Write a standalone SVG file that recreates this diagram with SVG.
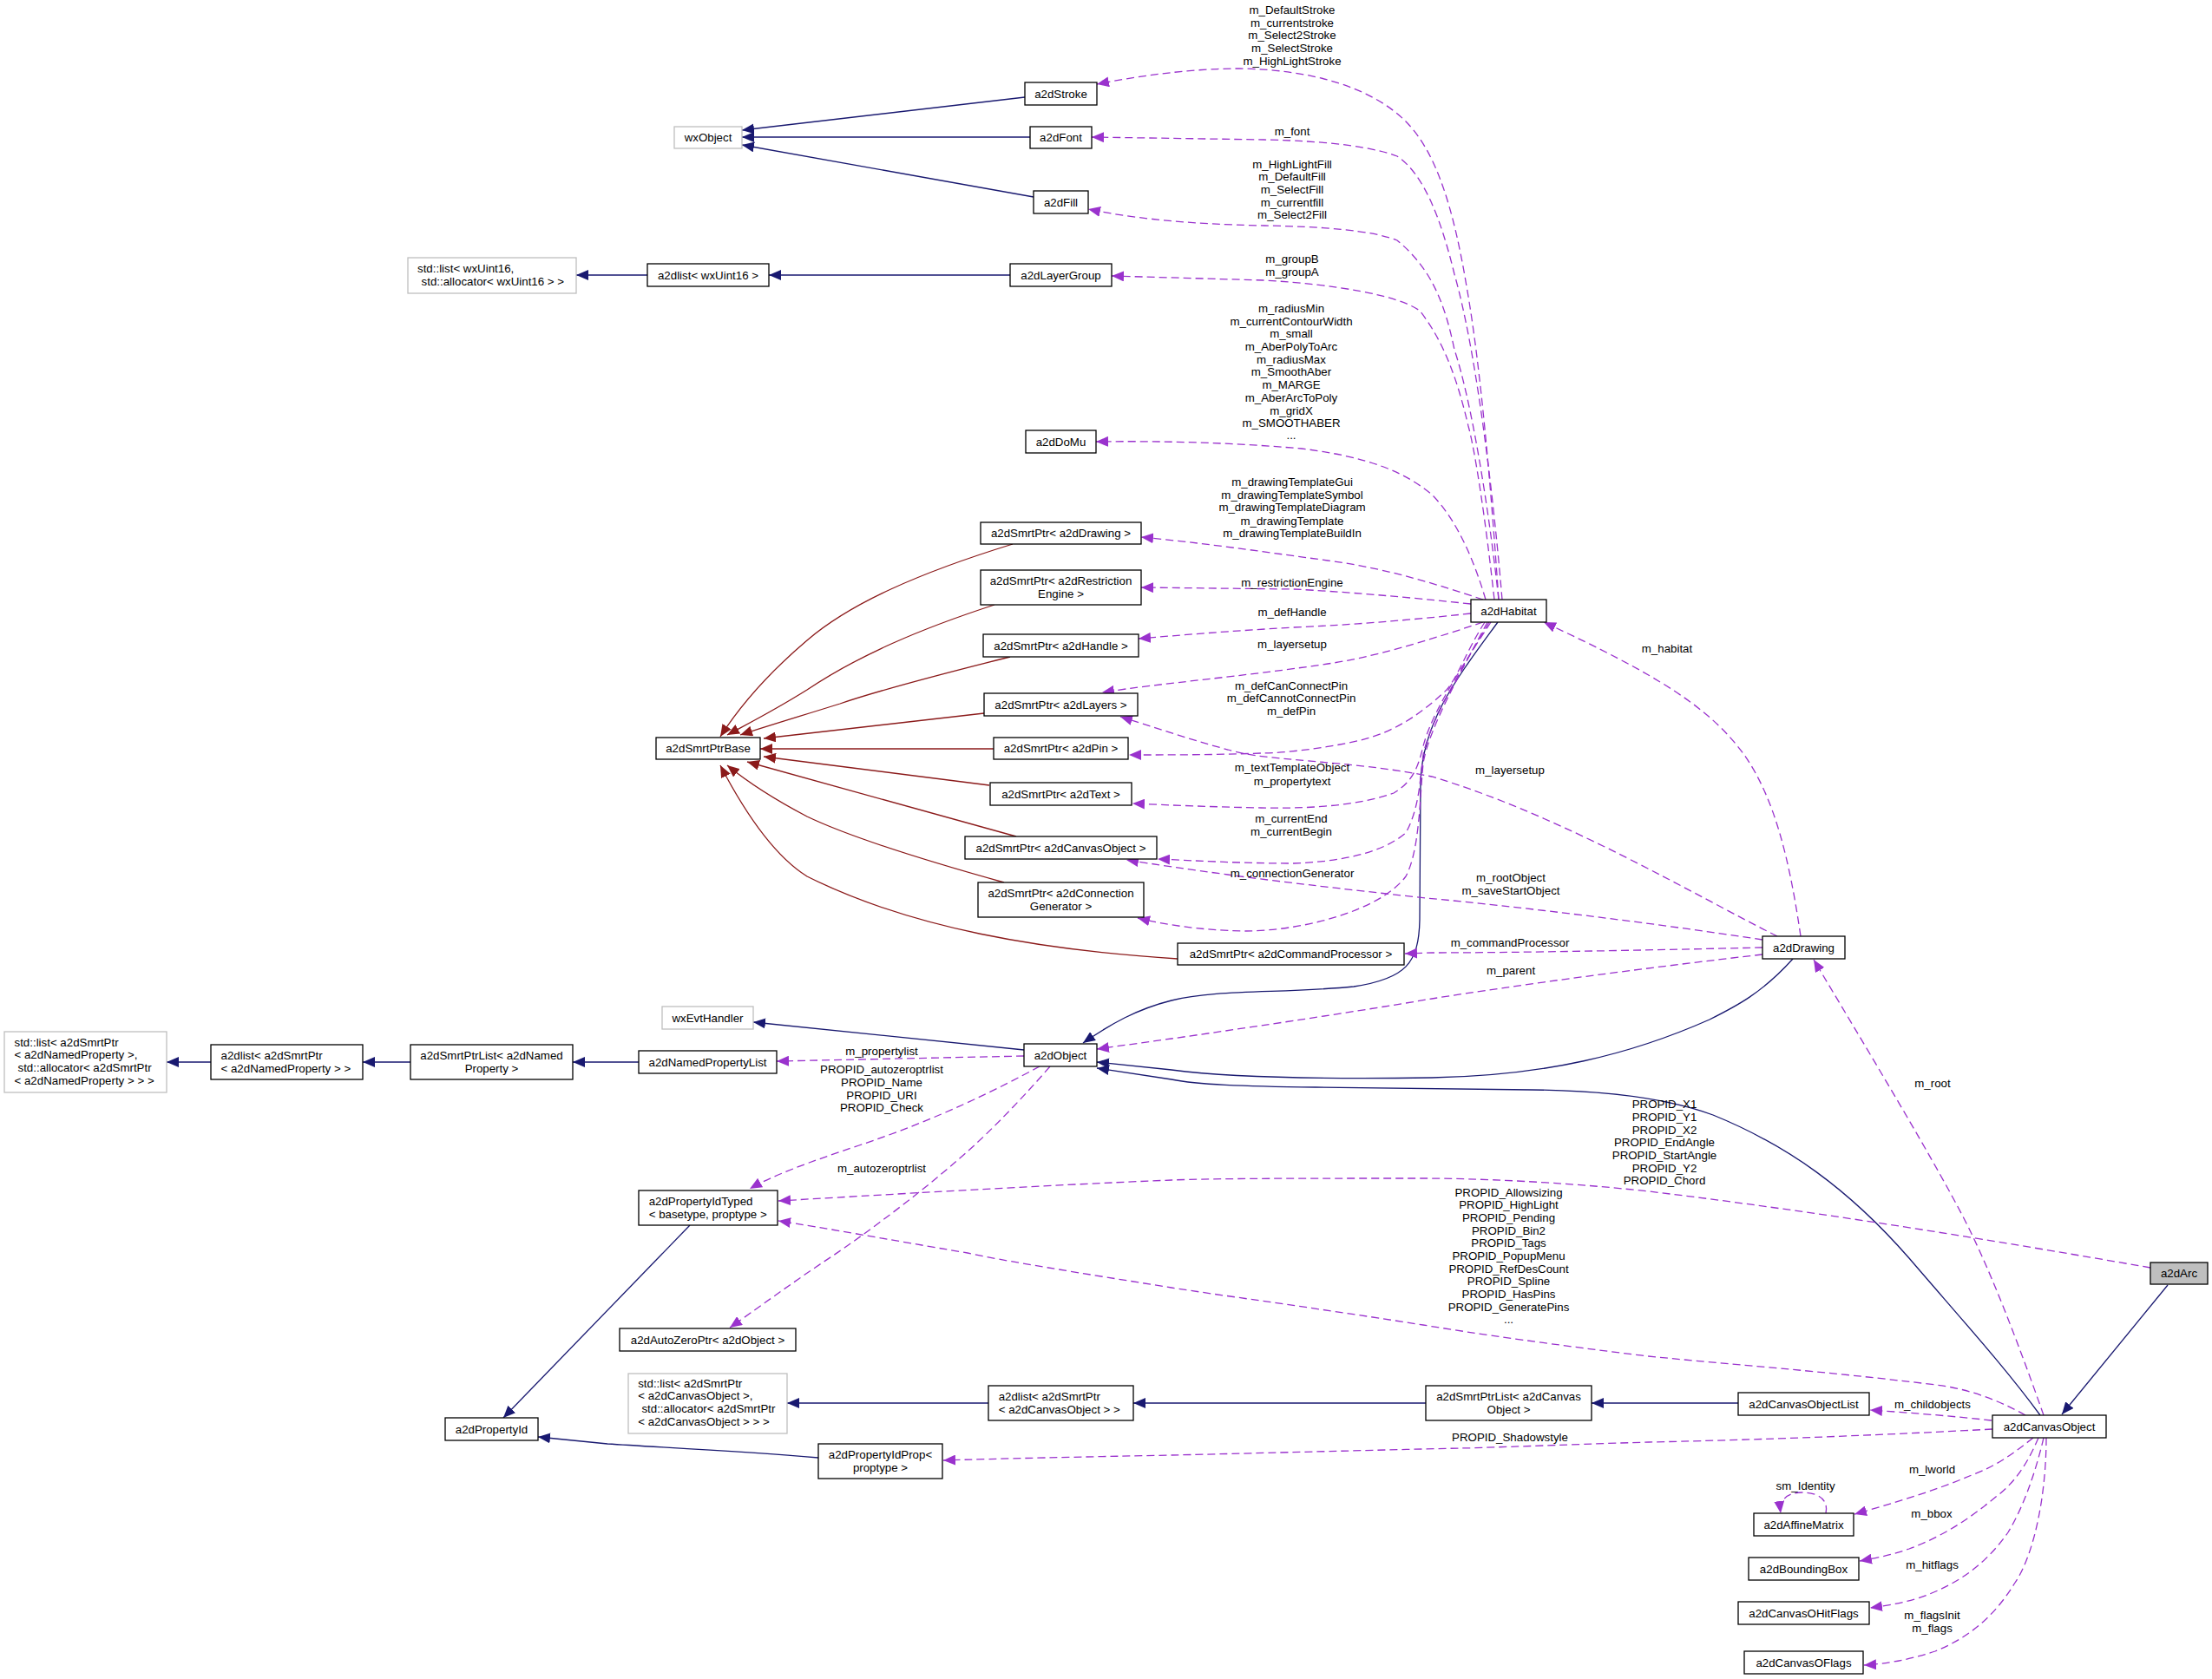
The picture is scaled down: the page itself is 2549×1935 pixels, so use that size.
<svg xmlns="http://www.w3.org/2000/svg" width="2549" height="1935" viewBox="0 0 2549 1935">
<defs>
<style>
text{font-family:"Liberation Sans",Arial,Helvetica,sans-serif;font-size:13.3px;fill:#000}
.n rect{fill:#fff;stroke:#000;stroke-width:1.3}
.g rect{fill:#fff;stroke:#bfbfbf;stroke-width:1.3}
.h rect{fill:#bfbfbf;stroke:#000;stroke-width:1.3}
.m{text-anchor:middle}
.e path{fill:none;stroke-width:1.3}
.e .inh{stroke:#191970;marker-end:url(#ab)}
.e .tpl{stroke:#8b1a1a;marker-end:url(#ar)}
.e .use{stroke:#9a32cd;stroke-dasharray:9,5;marker-end:url(#ap)}
.lbl text{text-anchor:middle}
</style>
<marker id="ab" markerUnits="userSpaceOnUse" markerWidth="14" markerHeight="12" viewBox="0 0 14 12" refX="14" refY="6" orient="auto"><path d="M0,0 L14,6 L0,12 z" fill="#191970"/></marker>
<marker id="ar" markerUnits="userSpaceOnUse" markerWidth="14" markerHeight="12" viewBox="0 0 14 12" refX="14" refY="6" orient="auto"><path d="M0,0 L14,6 L0,12 z" fill="#8b1a1a"/></marker>
<marker id="ap" markerUnits="userSpaceOnUse" markerWidth="14" markerHeight="12" viewBox="0 0 14 12" refX="14" refY="6" orient="auto"><path d="M0,0 L14,6 L0,12 z" fill="#9a32cd"/></marker>
</defs>
<rect width="2549" height="1935" fill="#fff"/>

<g id="connectors" class="e">
<!-- inheritance -->
<path class="inh" d="M1181,112 L855,150"/>
<path class="inh" d="M1187,158 L855,158"/>
<path class="inh" d="M1191,227 L855,167"/>
<path class="inh" d="M1164,317 L886,317"/>
<path class="inh" d="M746,317 L664,317"/>
<path class="inh" d="M736,1224 L660,1224"/>
<path class="inh" d="M473,1224 L418,1224"/>
<path class="inh" d="M243,1224 L192,1224"/>
<path class="inh" d="M1180,1210 L868,1178"/>
<path class="inh" d="M1726,717 C1680,780 1640,830 1637,900 L1636,1060 C1635,1110 1620,1128 1560,1137 C1480,1145 1400,1140 1350,1153 C1310,1163 1280,1180 1248,1202"/>
<path class="inh" d="M2066,1105 C2030,1145 2000,1160 1970,1175 C1880,1215 1780,1240 1650,1242 C1520,1244 1420,1242 1350,1233 L1264,1224"/>
<path class="inh" d="M2351,1631 C2310,1575 2260,1520 2200,1450 C2130,1370 2060,1320 1974,1285 C1920,1265 1850,1257 1765,1256 L1516,1253 C1430,1252 1380,1250 1350,1244 L1264,1231"/>
<path class="inh" d="M2498,1481 L2376,1630"/>
<path class="inh" d="M2003,1617 L1834,1617"/>
<path class="inh" d="M1643,1617 L1306,1617"/>
<path class="inh" d="M1139,1617 L907,1617"/>
<path class="inh" d="M795,1412 L580,1634"/>
<path class="inh" d="M943,1680 C850,1672 760,1668 700,1664 L620,1656"/>
<!-- template -->
<path class="tpl" d="M1167,627 C1060,660 980,695 930,738 C890,772 855,810 830,849"/>
<path class="tpl" d="M1146,697 C1060,725 990,755 930,795 C890,820 860,835 838,847"/>
<path class="tpl" d="M1164,757 C1080,778 1000,800 968,811 C920,826 880,838 853,847"/>
<path class="tpl" d="M1134,822 L880,851"/>
<path class="tpl" d="M1145,863 L876,863"/>
<path class="tpl" d="M1140,905 L880,872"/>
<path class="tpl" d="M1171,964 C1050,930 940,900 861,878"/>
<path class="tpl" d="M1157,1017 C1060,990 980,965 930,941 C890,920 860,900 838,882"/>
<path class="tpl" d="M1357,1105 C1200,1095 1050,1070 930,1010 C890,985 855,930 830,882"/>
<!-- usage -->
<path class="use" d="M1727,691 C1718,560 1706,420 1690,330 C1675,240 1655,175 1620,140 C1580,100 1510,80 1428,79 C1370,79 1310,88 1264,97"/>
<path class="use" d="M1731,691 C1720,560 1700,400 1676,316 C1660,250 1640,200 1610,180 C1570,165 1500,162 1457,161 L1258,158"/>
<path class="use" d="M1727,691 C1715,580 1695,460 1676,403 C1665,350 1650,310 1610,277 C1580,265 1520,261 1457,260 C1400,259 1320,255 1254,241"/>
<path class="use" d="M1722,691 C1712,600 1700,520 1692,491 C1680,440 1665,395 1636,358 C1610,340 1540,328 1457,323 L1281,318"/>
<path class="use" d="M1712,691 C1700,650 1680,600 1650,570 C1620,545 1580,527 1500,517 C1420,510 1340,508 1263,509"/>
<path class="use" d="M1709,691 C1660,675 1600,655 1530,646 C1450,635 1380,625 1315,619"/>
<path class="use" d="M1695,696 C1620,688 1550,682 1491,679 L1315,677"/>
<path class="use" d="M1695,707 C1620,715 1560,720 1491,723 C1420,727 1360,732 1312,736"/>
<path class="use" d="M1709,717 C1640,740 1580,758 1530,765 C1430,780 1340,787 1270,798"/>
<path class="use" d="M1711,717 C1690,750 1680,780 1667,795 C1630,830 1600,845 1568,853 C1530,862 1480,868 1453,868 C1400,870 1350,870 1301,870"/>
<path class="use" d="M1718,717 C1690,760 1650,820 1640,860 C1635,880 1630,900 1606,914 C1560,930 1500,932 1453,931 C1400,930 1350,928 1305,926"/>
<path class="use" d="M1716,717 C1688,765 1648,830 1640,870 C1636,900 1636,930 1620,960 C1590,985 1540,993 1491,995 C1430,995 1380,992 1334,990"/>
<path class="use" d="M1714,717 C1686,770 1646,840 1640,880 C1636,920 1636,980 1620,1010 C1590,1050 1500,1073 1434,1073 C1380,1072 1340,1065 1311,1058"/>
<path class="use" d="M2031,1092 C1900,1095 1750,1098 1650,1098 L1619,1099"/>
<path class="use" d="M2031,1100 C1900,1115 1750,1135 1650,1151 C1550,1168 1420,1187 1350,1197 L1264,1209"/>
<path class="use" d="M2075,1079 C2062,990 2045,920 2010,870 C1970,815 1910,778 1779,717"/>
<path class="use" d="M2048,1079 C1950,1030 1800,940 1650,895 C1550,875 1460,878 1415,864 C1370,852 1330,838 1291,826"/>
<path class="use" d="M2031,1083 C1900,1063 1750,1045 1644,1035 C1550,1025 1450,1013 1415,1008 C1370,1002 1330,996 1298,991"/>
<path class="use" d="M1180,1217 L895,1223"/>
<path class="use" d="M1198,1229 C1150,1255 1080,1290 990,1320 C930,1340 890,1355 864,1370"/>
<path class="use" d="M1210,1229 C1170,1275 1130,1315 1100,1340 C1060,1375 1000,1420 960,1447 C910,1480 870,1510 841,1530"/>
<path class="use" d="M2478,1461 C2300,1430 2100,1397 1900,1373 C1800,1362 1700,1358 1640,1358 C1500,1358 1400,1358 1350,1360 C1200,1366 1000,1378 897,1384"/>
<path class="use" d="M2334,1631 C2300,1612 2265,1600 2231,1596 C2100,1580 2000,1573 1899,1563 C1800,1551 1700,1537 1640,1527 C1500,1505 1400,1492 1350,1484 C1250,1468 1150,1452 1115,1444 C1020,1428 950,1415 897,1407"/>
<path class="use" d="M2296,1647 C2150,1655 2000,1660 1900,1662 C1800,1665 1700,1669 1682,1669 C1550,1672 1400,1676 1350,1677 C1250,1679 1150,1681 1087,1683"/>
<path class="use" d="M2295,1637 C2250,1632 2200,1628 2155,1625"/>
<path class="use" d="M2355,1631 C2330,1560 2300,1480 2272,1422 C2240,1355 2140,1190 2090,1106"/>
<path class="use" d="M2343,1657 C2320,1675 2300,1690 2272,1700 C2230,1718 2180,1733 2137,1745"/>
<path class="use" d="M2349,1657 C2335,1690 2320,1710 2300,1725 C2270,1750 2240,1770 2200,1785 C2180,1792 2160,1796 2143,1799"/>
<path class="use" d="M2355,1657 C2345,1700 2330,1740 2314,1766 C2290,1800 2260,1825 2210,1842 C2190,1848 2170,1851 2155,1853"/>
<path class="use" d="M2358,1657 C2358,1720 2345,1790 2322,1824 C2300,1860 2272,1886 2230,1903 C2200,1913 2170,1918 2148,1919"/>
<path class="use" d="M2104,1744 C2108,1725 2090,1720 2077,1720 C2060,1720 2050,1728 2052,1744"/>
</g>

<g id="labels" class="lbl">
<text x="1489" y="16.3">m_DefaultStroke</text>
<text x="1489" y="31.2">m_currentstroke</text>
<text x="1489" y="45.3">m_Select2Stroke</text>
<text x="1489" y="60.3">m_SelectStroke</text>
<text x="1489" y="75.2">m_HighLightStroke</text>
<text x="1489" y="156.4">m_font</text>
<text x="1489" y="193.7">m_HighLightFill</text>
<text x="1489" y="208.3">m_DefaultFill</text>
<text x="1489" y="223.2">m_SelectFill</text>
<text x="1489" y="237.7">m_currentfill</text>
<text x="1489" y="252.2">m_Select2Fill</text>
<text x="1489" y="303.2">m_groupB</text>
<text x="1489" y="317.7">m_groupA</text>
<text x="1488" y="360.4">m_radiusMin</text>
<text x="1488" y="375.3">m_currentContourWidth</text>
<text x="1488" y="389.4">m_small</text>
<text x="1488" y="404.4">m_AberPolyToArc</text>
<text x="1488" y="419.3">m_radiusMax</text>
<text x="1488" y="433.4">m_SmoothAber</text>
<text x="1488" y="448.3">m_MARGE</text>
<text x="1488" y="463.2">m_AberArcToPoly</text>
<text x="1488" y="477.7">m_gridX</text>
<text x="1488" y="492.3">m_SMOOTHABER</text>
<text x="1488" y="506.4">...</text>
<text x="1489" y="560.3">m_drawingTemplateGui</text>
<text x="1489" y="575.2">m_drawingTemplateSymbol</text>
<text x="1489" y="589.4">m_drawingTemplateDiagram</text>
<text x="1489" y="604.7">m_drawingTemplate</text>
<text x="1489" y="619.2">m_drawingTemplateBuildIn</text>
<text x="1489" y="675.5">m_restrictionEngine</text>
<text x="1489" y="709.5">m_defHandle</text>
<text x="1489" y="747.4">m_layersetup</text>
<text x="1488" y="795.3">m_defCanConnectPin</text>
<text x="1488" y="809.4">m_defCannotConnectPin</text>
<text x="1488" y="824.4">m_defPin</text>
<text x="1489" y="889.4">m_textTemplateObject</text>
<text x="1489" y="904.7">m_propertytext</text>
<text x="1488" y="948.4">m_currentEnd</text>
<text x="1488" y="963.3">m_currentBegin</text>
<text x="1489" y="1011.1">m_connectionGenerator</text>
<text x="1921" y="752.3">m_habitat</text>
<text x="1740" y="891.7">m_layersetup</text>
<text x="1741" y="1016.3">m_rootObject</text>
<text x="1741" y="1031.3">m_saveStartObject</text>
<text x="1740" y="1091.4">m_commandProcessor</text>
<text x="1741" y="1123.4">m_parent</text>
<text x="2227" y="1252.5">m_root</text>
<text x="1016" y="1215.7">m_propertylist</text>
<text x="1016" y="1237.4">PROPID_autozeroptrlist</text>
<text x="1016" y="1252.3">PROPID_Name</text>
<text x="1016" y="1267.2">PROPID_URI</text>
<text x="1016" y="1281.3">PROPID_Check</text>
<text x="1016" y="1351.4">m_autozeroptrlist</text>
<text x="1918" y="1277.2">PROPID_X1</text>
<text x="1918" y="1292.1">PROPID_Y1</text>
<text x="1918" y="1306.7">PROPID_X2</text>
<text x="1918" y="1321.1">PROPID_EndAngle</text>
<text x="1918" y="1335.7">PROPID_StartAngle</text>
<text x="1918" y="1350.7">PROPID_Y2</text>
<text x="1918" y="1364.7">PROPID_Chord</text>
<text x="1738.5" y="1379.2">PROPID_Allowsizing</text>
<text x="1738.5" y="1393.3">PROPID_HighLight</text>
<text x="1738.5" y="1408.2">PROPID_Pending</text>
<text x="1738.5" y="1423.1">PROPID_Bin2</text>
<text x="1738.5" y="1437.2">PROPID_Tags</text>
<text x="1738.5" y="1452.1">PROPID_PopupMenu</text>
<text x="1738.5" y="1467">PROPID_RefDesCount</text>
<text x="1738.5" y="1481.1">PROPID_Spline</text>
<text x="1738.5" y="1496.1">PROPID_HasPins</text>
<text x="1738.5" y="1511">PROPID_GeneratePins</text>
<text x="1738.5" y="1525">...</text>
<text x="1740" y="1661.1">PROPID_Shadowstyle</text>
<text x="2227" y="1623.4">m_childobjects</text>
<text x="2080.6" y="1716.7">sm_Identity</text>
<text x="2226.5" y="1697.7">m_lworld</text>
<text x="2226" y="1749.1">m_bbox</text>
<text x="2226.5" y="1807.7">m_hitflags</text>
<text x="2226.5" y="1865.7">m_flagsInit</text>
<text x="2226.5" y="1880.7">m_flags</text>
</g>

<g id="n_a2dArc" class="h"><rect x="2478" y="1455" width="66" height="25"/><text class="m" x="2511" y="1472">a2dArc</text></g>
<g id="n_a2dCanvasObject" class="n"><rect x="2296" y="1631" width="131" height="26"/><text class="m" x="2361.5" y="1648.5">a2dCanvasObject</text></g>
<g id="n_a2dObject" class="n"><rect x="1180" y="1203" width="84" height="26"/><text class="m" x="1222" y="1220.5">a2dObject</text></g>
<g id="n_wxEvtHandler" class="g"><rect x="763" y="1160" width="105" height="26"/><text class="m" x="815.5" y="1177.5">wxEvtHandler</text></g>
<g id="n_a2dNamedPropertyList" class="n"><rect x="736" y="1211" width="159" height="26"/><text class="m" x="815.5" y="1228.5">a2dNamedPropertyList</text></g>
<g id="n_a2dSmrtPtrList_NamedProperty" class="n"><rect x="473" y="1204" width="187" height="40"/><text class="m" x="566.5" y="1220.5">a2dSmrtPtrList&lt; a2dNamed</text><text class="m" x="566.5" y="1235.5">Property &gt;</text></g>
<g id="n_a2dlist_NamedProperty" class="n"><rect x="243" y="1204" width="175" height="40"/><text x="254.5" y="1220.5">a2dlist&lt; a2dSmrtPtr</text><text x="254.5" y="1235.5">&lt; a2dNamedProperty &gt; &gt;</text></g>
<g id="n_stdlist_NamedProperty" class="g"><rect x="5" y="1189" width="187" height="70"/><text x="16.5" y="1205.7">std::list&lt; a2dSmrtPtr</text><text x="16.5" y="1220.3">&lt; a2dNamedProperty &gt;,</text><text x="20.5" y="1234.8">std::allocator&lt; a2dSmrtPtr</text><text x="16.5" y="1249.7">&lt; a2dNamedProperty &gt; &gt; &gt;</text></g>
<g id="n_a2dPropertyIdTyped" class="n"><rect x="736" y="1372" width="160" height="40"/><text x="747.7" y="1388.5">a2dPropertyIdTyped</text><text x="747.7" y="1403.5">&lt; basetype, proptype &gt;</text></g>
<g id="n_a2dPropertyId" class="n"><rect x="513" y="1634" width="107" height="26"/><text class="m" x="566.5" y="1651.5">a2dPropertyId</text></g>
<g id="n_a2dAutoZeroPtr" class="n"><rect x="714" y="1531" width="203" height="26"/><text class="m" x="815.5" y="1548.5">a2dAutoZeroPtr&lt; a2dObject &gt;</text></g>
<g id="n_stdlist_CanvasObject" class="g"><rect x="724" y="1583" width="183" height="69"/><text x="735.2" y="1599.3">std::list&lt; a2dSmrtPtr</text><text x="735.2" y="1613.4">&lt; a2dCanvasObject &gt;,</text><text x="739.4" y="1628.3">std::allocator&lt; a2dSmrtPtr</text><text x="735.2" y="1643.3">&lt; a2dCanvasObject &gt; &gt; &gt;</text></g>
<g id="n_a2dlist_CanvasObject" class="n"><rect x="1139" y="1597" width="167" height="40"/><text x="1150.7" y="1613.5">a2dlist&lt; a2dSmrtPtr</text><text x="1150.7" y="1628.5">&lt; a2dCanvasObject &gt; &gt;</text></g>
<g id="n_a2dSmrtPtrList_CanvasObject" class="n"><rect x="1643" y="1597" width="191" height="40"/><text class="m" x="1738.5" y="1613.5">a2dSmrtPtrList&lt; a2dCanvas</text><text class="m" x="1738.5" y="1628.5">Object &gt;</text></g>
<g id="n_a2dCanvasObjectList" class="n"><rect x="2003" y="1605" width="151" height="26"/><text class="m" x="2078.5" y="1622.5">a2dCanvasObjectList</text></g>
<g id="n_a2dPropertyIdProp" class="n"><rect x="943" y="1664" width="143" height="40"/><text class="m" x="1014.5" y="1680.5">a2dPropertyIdProp&lt;</text><text class="m" x="1014.5" y="1695.5">proptype &gt;</text></g>
<g id="n_a2dAffineMatrix" class="n"><rect x="2021" y="1744" width="115" height="26"/><text class="m" x="2078.5" y="1761.5">a2dAffineMatrix</text></g>
<g id="n_a2dBoundingBox" class="n"><rect x="2015" y="1795" width="127" height="26"/><text class="m" x="2078.5" y="1812.5">a2dBoundingBox</text></g>
<g id="n_a2dCanvasOHitFlags" class="n"><rect x="2003" y="1846" width="151" height="26"/><text class="m" x="2078.5" y="1863.5">a2dCanvasOHitFlags</text></g>
<g id="n_a2dCanvasOFlags" class="n"><rect x="2010" y="1903" width="137" height="26"/><text class="m" x="2078.5" y="1920.5">a2dCanvasOFlags</text></g>
<g id="n_a2dDrawing" class="n"><rect x="2031" y="1079" width="95" height="26"/><text class="m" x="2078.5" y="1096.5">a2dDrawing</text></g>
<g id="n_a2dHabitat" class="n"><rect x="1695" y="691" width="87" height="26"/><text class="m" x="1738.5" y="708.5">a2dHabitat</text></g>
<g id="n_a2dSmrtPtrBase" class="n"><rect x="756" y="850" width="120" height="25"/><text class="m" x="816" y="867">a2dSmrtPtrBase</text></g>
<g id="n_sp_a2dDrawing" class="n"><rect x="1130" y="602" width="185" height="25"/><text class="m" x="1222.5" y="619">a2dSmrtPtr&lt; a2dDrawing &gt;</text></g>
<g id="n_sp_a2dRestrictionEngine" class="n"><rect x="1130" y="657" width="185" height="40"/><text class="m" x="1222.5" y="673.5">a2dSmrtPtr&lt; a2dRestriction</text><text class="m" x="1222.5" y="688.5">Engine &gt;</text></g>
<g id="n_sp_a2dHandle" class="n"><rect x="1133" y="731" width="179" height="26"/><text class="m" x="1222.5" y="748.5">a2dSmrtPtr&lt; a2dHandle &gt;</text></g>
<g id="n_sp_a2dLayers" class="n"><rect x="1134" y="799" width="177" height="26"/><text class="m" x="1222.5" y="816.5">a2dSmrtPtr&lt; a2dLayers &gt;</text></g>
<g id="n_sp_a2dPin" class="n"><rect x="1145" y="850" width="155" height="25"/><text class="m" x="1222.5" y="867">a2dSmrtPtr&lt; a2dPin &gt;</text></g>
<g id="n_sp_a2dText" class="n"><rect x="1141" y="902" width="163" height="26"/><text class="m" x="1222.5" y="919.5">a2dSmrtPtr&lt; a2dText &gt;</text></g>
<g id="n_sp_a2dCanvasObject" class="n"><rect x="1112" y="964" width="221" height="26"/><text class="m" x="1222.5" y="981.5">a2dSmrtPtr&lt; a2dCanvasObject &gt;</text></g>
<g id="n_sp_a2dConnectionGenerator" class="n"><rect x="1127" y="1017" width="191" height="40"/><text class="m" x="1222.5" y="1033.5">a2dSmrtPtr&lt; a2dConnection</text><text class="m" x="1222.5" y="1048.5">Generator &gt;</text></g>
<g id="n_sp_a2dCommandProcessor" class="n"><rect x="1357" y="1087" width="261" height="25"/><text class="m" x="1487.5" y="1104">a2dSmrtPtr&lt; a2dCommandProcessor &gt;</text></g>
<g id="n_a2dStroke" class="n"><rect x="1181" y="95" width="83" height="26"/><text class="m" x="1222.5" y="112.5">a2dStroke</text></g>
<g id="n_a2dFont" class="n"><rect x="1187" y="146" width="71" height="25"/><text class="m" x="1222.5" y="163">a2dFont</text></g>
<g id="n_a2dFill" class="n"><rect x="1191" y="220" width="63" height="26"/><text class="m" x="1222.5" y="237.5">a2dFill</text></g>
<g id="n_a2dLayerGroup" class="n"><rect x="1164" y="304" width="117" height="26"/><text class="m" x="1222.5" y="321.5">a2dLayerGroup</text></g>
<g id="n_a2dDoMu" class="n"><rect x="1182" y="496" width="81" height="26"/><text class="m" x="1222.5" y="513.5">a2dDoMu</text></g>
<g id="n_wxObject" class="g"><rect x="777" y="146" width="78" height="25"/><text class="m" x="816" y="163">wxObject</text></g>
<g id="n_a2dlist_wxUint16" class="n"><rect x="746" y="304" width="140" height="26"/><text class="m" x="816" y="321.5">a2dlist&lt; wxUint16 &gt;</text></g>
<g id="n_stdlist_wxUint16" class="g"><rect x="470" y="297" width="194" height="41"/><text x="481" y="313.7">std::list&lt; wxUint16,</text><text x="485.6" y="328.5">std::allocator&lt; wxUint16 &gt; &gt;</text></g>
</svg>
